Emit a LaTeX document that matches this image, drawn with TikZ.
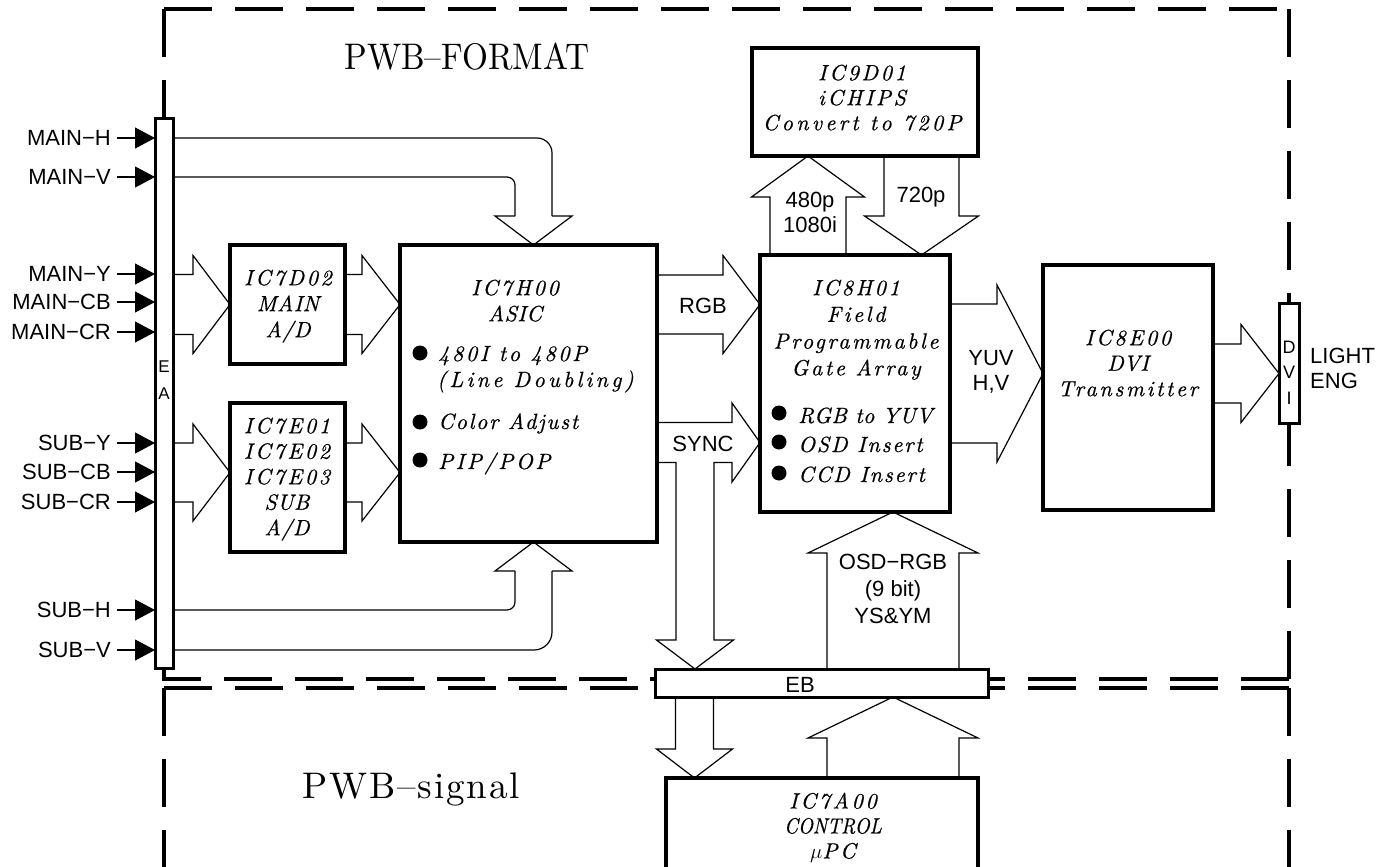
\documentclass[tikz,border=0pt]{standalone}
\usepackage{fontspec}
\usepackage{graphicx}
\usetikzlibrary{calc,arrows.meta}
\newfontfamily\lsans{Liberation Sans}
\newfontfamily\hit{lmroman10-italic.otf}[LetterSpace=12,FakeBold=0.6]
\newfontfamily\hitw{lmroman10-italic.otf}[LetterSpace=15,FakeBold=0.6]
\newfontfamily\hitc{lmroman10-italic.otf}[LetterSpace=2,FakeBold=0.6]
\newfontfamily\hrm{lmroman10-regular.otf}
\newfontfamily\hrmsp{lmroman10-regular.otf}[LetterSpace=5]
\newcommand\tp[1]{\rule{0pt}{#1}}
% block arrows: #1 source anchor, #2 tip coordinate, #3 shaft half width, #4 head half width, #5 head length
\newcommand\blockR[5]{\draw[barrow] ($(#1 |- #2)+(0,-#3)$) -- ($(#2)+(-#5,-#3)$) -- ($(#2)+(-#5,-#4)$) -- (#2) -- ($(#2)+(-#5,#4)$) -- ($(#2)+(-#5,#3)$) -- ($(#1 |- #2)+(0,#3)$);}
\newcommand\blockU[5]{\draw[barrow] ($(#2 |- #1)+(-#3,0)$) -- ($(#2)+(-#3,#5)$) -- ($(#2)+(-#4,#5)$) -- (#2) -- ($(#2)+(#4,#5)$) -- ($(#2)+(#3,#5)$) -- ($(#2 |- #1)+(#3,0)$);}
\newcommand\blockD[5]{\draw[barrow] ($(#2 |- #1)+(-#3,0)$) -- ($(#2)+(-#3,-#5)$) -- ($(#2)+(-#4,-#5)$) -- (#2) -- ($(#2)+(#4,-#5)$) -- ($(#2)+(#3,-#5)$) -- ($(#2 |- #1)+(#3,0)$);}
\tikzset{
  box/.style={draw, line width=3.5pt, inner sep=0pt, outer sep=0pt, line join=miter},
  bar/.style={draw, line width=3pt, fill=white, inner sep=0pt, outer sep=0pt},
  barrow/.style={line width=1.2pt, line join=miter},
  border/.style={line width=4.5pt, dash pattern=on 48pt off 23pt},
  sl/.style={font=\lsans\fontsize{22}{25}\selectfont, inner sep=0pt},
  lbl/.style={sl, text height=15.7pt, text depth=0pt},
  itx/.style={font=\hit\fontsize{22}{26}\selectfont, inner sep=0pt},
  sigarrow/.style={line width=1.1pt, -{Triangle[length=20pt,width=21pt]}},
  dot/.style={fill=black}
}
\begin{document}
\begin{tikzpicture}[x=1pt,y=-1pt]
\useasboundingbox (0,0) rectangle (1387,867);

% ---------- blocks ----------
\node[bar, minimum width=18pt, minimum height=550pt] (ea) at (164,393) {};
\node[bar, minimum width=20pt, minimum height=120pt] (dvi) at (1289,363) {};
\node[bar, minimum width=333pt, minimum height=28pt] (eb) at (821.5,683) {};
\node[box, minimum width=115pt, minimum height=119pt] (d02) at (287.5,304.5) {};
\node[box, minimum width=115pt, minimum height=149pt] (e01) at (287.5,477.5) {};
\node[box, minimum width=257pt, minimum height=297pt] (asic) at (528.5,393.5) {};
\node[box, minimum width=190pt, minimum height=257pt] (fpga) at (855,383.5) {};
\node[box, minimum width=226pt, minimum height=108pt] (ic9) at (865,102) {};
\node[box, minimum width=170pt, minimum height=245pt] (e00) at (1128,387.5) {};
\node[inner sep=0pt, outer sep=0pt, minimum width=312pt, minimum height=110pt] (ctl) at (822,833) {};
\draw[box] (ctl.south west) -- (ctl.north west) -- (ctl.north east) -- (ctl.south east);

% ---------- board borders ----------
\coordinate (ftl) at (164,9);
\coordinate (ftr) at (1289,9);
\coordinate (fbr) at (1289,679);
\coordinate (fbl) at (164,679);
\coordinate (stl) at (164,688);
\coordinate (str) at (1289,688);
\coordinate (sbl) at (164,885);
\coordinate (sbr) at (1289,885);
\draw[border] (ftl) -- (ftr);
\draw[border] (ftl) -- (ea.north);
\draw[border] (ftr) -- (dvi.north);
\draw[border] (fbr) -- (dvi.south);
\draw[border] (ea.south) -- (fbl) -- (eb.west |- fbl);
\draw[border] (fbr) -- (eb.east |- fbr);
\draw[border] (stl) -- (eb.west |- stl);
\draw[border] (str) -- (eb.east |- str);
\draw[border] (stl) -- (sbl);
\draw[border] (str) -- (sbr);

% ---------- titles ----------
\node[font=\hrm\fontsize{37}{40}\selectfont, inner sep=0pt, anchor=base] (tfmt) at (467,70) {\scalebox{0.9}[1]{PWB–FORMAT}};
\node[font=\hrmsp\fontsize{37}{40}\selectfont, inner sep=0pt, anchor=base] (tsig) at (411,798) {PWB–signal};

% ---------- input signals ----------
\node[lbl, anchor=east] (mh) at (111,138) {MAIN−H};
\node[lbl, anchor=east] (mv) at (111,177) {MAIN−V};
\node[lbl, anchor=east] (my) at (111,274) {MAIN−Y};
\node[lbl, anchor=east] (mcb) at (111,302) {MAIN−CB};
\node[lbl, anchor=east] (mcr) at (111,332) {MAIN−CR};
\node[lbl, anchor=east] (sy) at (111,443) {SUB−Y};
\node[lbl, anchor=east] (scb) at (111,472) {SUB−CB};
\node[lbl, anchor=east] (scr) at (111,502) {SUB−CR};
\node[lbl, anchor=east] (sh) at (111,610) {SUB−H};
\node[lbl, anchor=east] (sv) at (111,650) {SUB−V};
\foreach \n in {mh,mv,my,mcb,mcr,sy,scb,scr,sh,sv}
  \draw[sigarrow] ([xshift=6pt]\n.east) -- (ea.west |- \n.east);

% bar letters
\node[font=\lsans\fontsize{17}{27}\selectfont, inner sep=0pt, anchor=north, align=center] (eat) at (164,359.5) {\tp{12.5pt}E\\A};
\node[font=\lsans\fontsize{18}{25.5}\selectfont, inner sep=0pt, anchor=north, align=center] (dvit) at (1289,340) {\tp{13pt}D\\V\\I};
\node[sl, anchor=base] (ebt) at (800,692) {EB};

% ---------- block texts ----------
\node[itx, anchor=north, align=center] (td02) at (288,269.5) {\tp{15.5pt}IC7D02\\{\hitc MAIN}\\{\hitc A/D}};
\node[itx, font=\hit\fontsize{22}{25.5}\selectfont, anchor=north, align=center] (te01) at (287,417.5) {\tp{15.5pt}IC7E01\\IC7E02\\IC7E03\\{\hitc SUB}\\{\hitc A/D}};
\node[itx, anchor=north, align=center] (tasic) at (515,279.5) {\tp{15.5pt}IC7H00\\{\hitc ASIC}};
\node[itx, anchor=base west] (ta1) at (438,361) {480I to 480P};
\node[itx, font=\hitw\fontsize{22}{26}\selectfont, anchor=base west] (ta2) at (437,387) {(Line Doubling)};
\node[itx, font=\hitc\fontsize{22}{26}\selectfont, anchor=base west] (ta3) at (438,429) {\addfontfeatures{LetterSpace=8}Color Adjust};
\node[itx, anchor=base west] (ta4) at (438,469) {PIP/POP};
\fill[dot] (420,353) circle[radius=7.5pt];
\fill[dot] (420,422) circle[radius=7.5pt];
\fill[dot] (420,460) circle[radius=7.5pt];

\node[itx, font=\hit\fontsize{22}{26.7}\selectfont, anchor=north, align=center] (tfpga) at (856,279.5) {\tp{15.5pt}IC8H01\\Field\\Programmable\\Gate Array};
\node[itx, font=\hitc\fontsize{22}{26}\selectfont, anchor=base west] (tf1) at (798,423) {RGB to YUV};
\node[itx, font=\hitc\fontsize{22}{26}\selectfont, anchor=base west] (tf2) at (798,452) {\addfontfeatures{LetterSpace=8}OSD Insert};
\node[itx, font=\hitc\fontsize{22}{26}\selectfont, anchor=base west] (tf3) at (798,482) {\addfontfeatures{LetterSpace=8}CCD Insert};
\fill[dot] (779,413) circle[radius=7.5pt];
\fill[dot] (779,442) circle[radius=7.5pt];
\fill[dot] (779,473) circle[radius=7.5pt];

\node[itx, font=\hit\fontsize{22}{25}\selectfont, anchor=north, align=center] (tic9) at (862,64.5) {\tp{15.5pt}IC9D01\\iCHIPS\\{\hitw Convert to 720P}};
\node[itx, font=\hit\fontsize{22}{25.5}\selectfont, anchor=north, align=center] (te00) at (1128,329.5) {\tp{15.5pt}IC8E00\\{\hitc DVI}\\Transmitter};
\node[itx, font=\hit\fontsize{22}{25}\selectfont, anchor=north, align=center] (tctl) at (833,792.5) {\tp{15.5pt}IC7A00\\{\hitc\addfontfeatures{LetterSpace=0}\scalebox{0.88}[1]{CONTROL}}\\$\mu$PC};

% ---------- block arrows ----------
\coordinate (t1) at (d02.west);
\blockR{ea.east}{t1}{30}{49}{37}
\coordinate (t2) at (asic.west |- d02.east);
\blockR{d02.east}{t2}{30}{49}{38}
\coordinate (t3) at ($(e01.west)+(0,-5)$);
\blockR{ea.east}{t3}{29.5}{48.5}{37}
\coordinate (t4) at (asic.west |- t3);
\blockR{e01.east}{t4}{29.5}{48.5}{38}
\coordinate (t5) at ($(fpga.west)+(0,-79)$);
\blockR{asic.east}{t5}{29.5}{49}{37}
\coordinate (t7) at ($(e00.west)+(0,-14)$);
\blockR{fpga.east}{t7}{69.5}{88.5}{46}
\coordinate (t8) at (dvi.west |- t7);
\blockR{e00.east}{t8}{29.5}{49}{38}
\coordinate (t9) at ($(ic9.south)+(-57,0)$);
\blockU{fpga.north}{t9}{38}{56.5}{41}
\coordinate (t10) at ($(fpga.north)+(66.5,0)$);
\blockD{ic9.south}{t10}{37.5}{57}{39}
\coordinate (t11) at ($(fpga.south)+(38,0)$);
\blockU{eb.north}{t11}{66}{85}{41}
\coordinate (t12) at (eb.south -| t11);
\blockU{ctl.north}{t12}{66}{85}{41}
\coordinate (t13) at ($(ctl.north)+(-127.5,0)$);
\blockD{eb.south}{t13}{19}{38}{29}

% SYNC: to FPGA and down to EB
\coordinate (ts) at ($(fpga.west)+(0,59)$);
\coordinate (tsd) at ($(eb.north)+(-126.5,0)$);
\draw[barrow] ($(asic.east |- ts)+(0,-20)$) -- ($(ts)+(-28,-20)$) -- ($(ts)+(-28,-39.5)$) -- (ts)
  -- ($(ts)+(-28,39.5)$) -- ($(ts)+(-28,20)$) -- ($(tsd |- ts)+(19,20)$) -- ($(tsd)+(19,-29)$)
  -- ($(tsd)+(38.5,-29)$) -- (tsd) -- ($(tsd)+(-38.5,-29)$) -- ($(tsd)+(-19,-29)$)
  -- ($(tsd |- ts)+(-19,20)$) -- ($(asic.east |- ts)+(0,20)$);

% H / V into ASIC (top)
\coordinate (tat) at ($(asic.north)+(5,0)$);
\draw[barrow, rounded corners=15pt] (ea.east |- mh.east) -- ($(tat |- mh.east)+(18.5,0)$) -- ($(tat)+(18.5,-29)$);
\draw[barrow, rounded corners=8pt] (ea.east |- mv.east) -- ($(tat |- mv.east)+(-18.5,0)$) -- ($(tat)+(-18.5,-29)$);
\draw[barrow] ($(tat)+(-18.5,-29)$) -- ($(tat)+(-38.5,-29)$) -- (tat) -- ($(tat)+(38.5,-29)$) -- ($(tat)+(18.5,-29)$);
% H / V into ASIC (bottom)
\coordinate (tab) at ($(asic.south)+(5,0)$);
\draw[barrow, rounded corners=8pt] (ea.east |- sh.east) -- ($(tab |- sh.east)+(-18.5,0)$) -- ($(tab)+(-18.5,29)$);
\draw[barrow, rounded corners=18pt] (ea.east |- sv.east) -- ($(tab |- sv.east)+(18.5,0)$) -- ($(tab)+(18.5,29)$);
\draw[barrow] ($(tab)+(-18.5,29)$) -- ($(tab)+(-38.5,29)$) -- (tab) -- ($(tab)+(38.5,29)$) -- ($(tab)+(18.5,29)$);

% ---------- arrow labels ----------
\node[sl, anchor=base] (lrgb) at (703,313) {RGB};
\node[sl, anchor=base] (lsync) at (703,451) {SYNC};
\node[sl, anchor=north, align=center] (l480) at (810,191.5) {\tp{16pt}480p\\1080i};
\node[sl, anchor=base] (l720) at (921,202) {720p};
\node[sl, anchor=north, align=center] (lyuv) at (991,349.5) {\tp{16pt}YUV\\H,V};
\node[sl, anchor=north west, align=left] (llight) at (1310,347.5) {\tp{16pt}LIGHT\\ENG};
\node[sl, font=\lsans\fontsize{22}{27}\selectfont, anchor=north, align=center] (losd) at (893,553.5) {\tp{16pt}OSD−RGB\\(9 bit)\\YS\&YM};
\end{tikzpicture}
\end{document}
